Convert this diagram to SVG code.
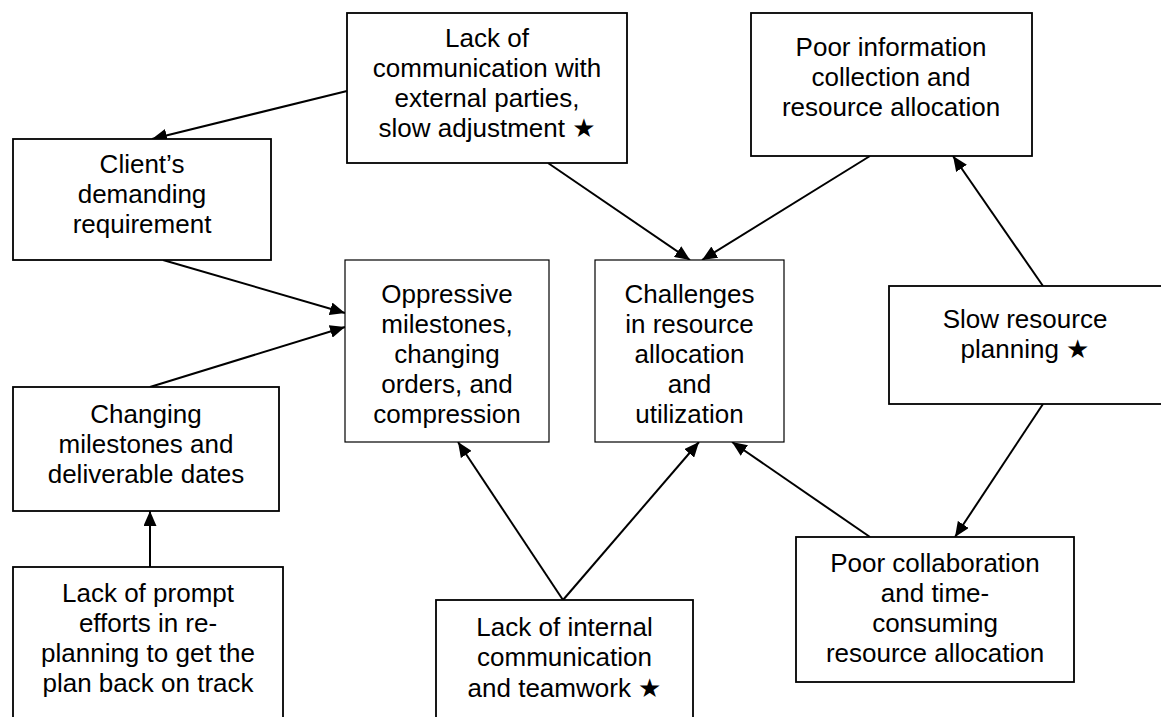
<svg xmlns="http://www.w3.org/2000/svg" width="1161" height="717" viewBox="0 0 1161 717">
  <style>
    .box { fill: #ffffff; stroke: #000000; stroke-width: 1.8; }
    .box.thin { stroke-width: 1.2; }
    .label { font-family: "Liberation Sans", Arial, "DejaVu Sans", sans-serif; font-size: 26px; fill: #000000; text-anchor: middle; }
    .edge { fill: none; stroke: #000000; stroke-width: 2; marker-end: url(#arrow); }
  </style>
  <defs>
    <marker id="arrow" markerUnits="userSpaceOnUse" markerWidth="15" markerHeight="13" refX="15" refY="6.5" orient="auto">
      <path d="M0,0 L15,6.5 L0,13 Z" fill="#000000"/>
    </marker>
  </defs>
  <rect width="1161" height="717" fill="#ffffff"/>

  <!-- connectors -->
  <g id="connectors">
    <line class="edge" x1="347" y1="91" x2="152" y2="139"/>
    <line class="edge" x1="548" y1="163" x2="690" y2="260"/>
    <line class="edge" x1="870" y1="156" x2="702" y2="260"/>
    <line class="edge" x1="163" y1="260" x2="345" y2="313"/>
    <line class="edge" x1="150" y1="387" x2="345" y2="327"/>
    <line class="edge" x1="150" y1="567" x2="150" y2="511"/>
    <line class="edge" x1="563" y1="600" x2="458" y2="442"/>
    <line class="edge" x1="563" y1="600" x2="699" y2="442"/>
    <line class="edge" x1="870" y1="537" x2="732" y2="442"/>
    <line class="edge" x1="1043" y1="286" x2="953" y2="156"/>
    <line class="edge" x1="1043" y1="404" x2="955" y2="537"/>
  </g>

  <g id="external-communication">
    <rect class="box" x="347" y="13" width="280" height="150"/>
    <text class="label" x="487" y="47">Lack of</text>
    <text class="label" x="487" y="77">communication with</text>
    <text class="label" x="487" y="107">external parties,</text>
    <text class="label" x="487" y="137">slow adjustment ★</text>
  </g>

  <g id="poor-information">
    <rect class="box" x="751" y="13" width="281" height="143"/>
    <text class="label" x="891" y="56">Poor information</text>
    <text class="label" x="891" y="86">collection and</text>
    <text class="label" x="891" y="116">resource allocation</text>
  </g>

  <g id="client-requirement">
    <rect class="box" x="13" y="139" width="258" height="121"/>
    <text class="label" x="142" y="173">Client’s</text>
    <text class="label" x="142" y="203">demanding</text>
    <text class="label" x="142" y="233">requirement</text>
  </g>

  <g id="oppressive-milestones">
    <rect class="box thin" x="345" y="260" width="204" height="182"/>
    <text class="label" x="447" y="303">Oppressive</text>
    <text class="label" x="447" y="333">milestones,</text>
    <text class="label" x="447" y="363">changing</text>
    <text class="label" x="447" y="393">orders, and</text>
    <text class="label" x="447" y="423">compression</text>
  </g>

  <g id="resource-challenges">
    <rect class="box thin" x="595" y="260" width="189" height="182"/>
    <text class="label" x="689.5" y="303">Challenges</text>
    <text class="label" x="689.5" y="333">in resource</text>
    <text class="label" x="689.5" y="363">allocation</text>
    <text class="label" x="689.5" y="393">and</text>
    <text class="label" x="689.5" y="423">utilization</text>
  </g>

  <g id="slow-planning">
    <rect class="box" x="889" y="286" width="275" height="118"/>
    <text class="label" x="1025" y="328">Slow resource</text>
    <text class="label" x="1025" y="358">planning ★</text>
  </g>

  <g id="changing-milestones">
    <rect class="box" x="13" y="387" width="266" height="124"/>
    <text class="label" x="146" y="423">Changing</text>
    <text class="label" x="146" y="453">milestones and</text>
    <text class="label" x="146" y="483">deliverable dates</text>
  </g>

  <g id="replanning-efforts">
    <rect class="box" x="13" y="567" width="270" height="155"/>
    <text class="label" x="148" y="602">Lack of prompt</text>
    <text class="label" x="148" y="632">efforts in re-</text>
    <text class="label" x="148" y="662">planning to get the</text>
    <text class="label" x="148" y="692">plan back on track</text>
  </g>

  <g id="internal-communication">
    <rect class="box" x="436" y="600" width="257" height="122"/>
    <text class="label" x="564.5" y="636">Lack of internal</text>
    <text class="label" x="564.5" y="666">communication</text>
    <text class="label" x="564.5" y="697">and teamwork ★</text>
  </g>

  <g id="poor-collaboration">
    <rect class="box" x="796" y="537" width="278" height="145"/>
    <text class="label" x="935" y="572">Poor collaboration</text>
    <text class="label" x="935" y="602">and time-</text>
    <text class="label" x="935" y="632">consuming</text>
    <text class="label" x="935" y="662">resource allocation</text>
  </g>
</svg>
